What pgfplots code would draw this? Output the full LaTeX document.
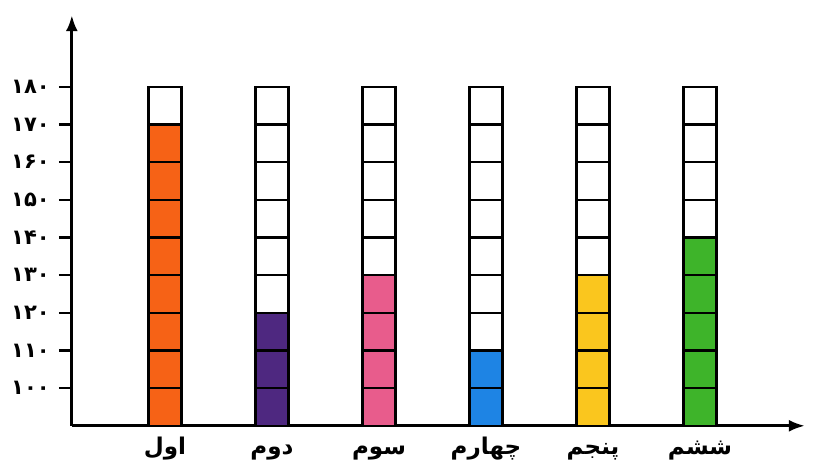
\documentclass[border=0pt]{standalone}
\usepackage{fontspec}
\usepackage{pgfplots}
\pgfplotsset{compat=1.18}
\usetikzlibrary{arrows.meta}
\TeXXeTstate=1
\newfontfamily\arabicfont[Script=Arabic]{DejaVu Sans}

\definecolor{barorange}{RGB}{246,98,22}
\definecolor{barpurple}{RGB}{78,40,128}
\definecolor{barpink}{RGB}{232,92,140}
\definecolor{barblue}{RGB}{30,132,228}
\definecolor{baryellow}{RGB}{250,198,30}
\definecolor{bargreen}{RGB}{62,180,42}

\pgfplotsset{
  cellbar/.style={ybar, bar width=16.5pt, bar shift=0pt},
  level/.style={cellbar, draw=black, fill=none, line width=1.2pt},
}

\begin{document}
\begin{tikzpicture}
\begin{axis}[
  scale only axis, width=366pt, height=205pt,
  xmin=-0.87, xmax=5.98, ymin=90, ymax=199,
  axis lines=left,
  axis line style={line width=1.5pt, -{Latex[length=8pt,width=6pt]}},
  xtick={0,1,2,3,4,5},
  xticklabels={
    {\beginR اول\endR},
    {\beginR دوم\endR},
    {\beginR سوم\endR},
    {\beginR چهارم\endR},
    {\beginR پنجم\endR},
    {\beginR ششم\endR}},
  x tick style={draw=none},
  xticklabel style={font=\arabicfont\bfseries\fontsize{11.5}{13}\selectfont,
    anchor=base, yshift=-8pt, inner sep=0pt},
  ytick={100,110,120,130,140,150,160,170,180},
  yticklabels={۱۰۰,۱۱۰,۱۲۰,۱۳۰,۱۴۰,۱۵۰,۱۶۰,۱۷۰,۱۸۰},
  yticklabel style={font=\arabicfont\bfseries\fontsize{10.5}{12}\selectfont, xshift=-1pt},
  y tick style={line width=1.2pt, black},
  tick align=outside, major tick length=6.5pt,
]
% coloured part of each column
\addplot[cellbar, fill=barorange, draw=none] coordinates {(0,170)};
\addplot[cellbar, fill=barpurple, draw=none] coordinates {(1,120)};
\addplot[cellbar, fill=barpink, draw=none] coordinates {(2,130)};
\addplot[cellbar, fill=barblue, draw=none] coordinates {(3,110)};
\addplot[cellbar, fill=baryellow, draw=none] coordinates {(4,130)};
\addplot[cellbar, fill=bargreen, draw=none] coordinates {(5,140)};
% cell outlines, one level at a time
\addplot[level] coordinates {(0,100) (1,100) (2,100) (3,100) (4,100) (5,100)};
\addplot[level] coordinates {(0,110) (1,110) (2,110) (3,110) (4,110) (5,110)};
\addplot[level] coordinates {(0,120) (1,120) (2,120) (3,120) (4,120) (5,120)};
\addplot[level] coordinates {(0,130) (1,130) (2,130) (3,130) (4,130) (5,130)};
\addplot[level] coordinates {(0,140) (1,140) (2,140) (3,140) (4,140) (5,140)};
\addplot[level] coordinates {(0,150) (1,150) (2,150) (3,150) (4,150) (5,150)};
\addplot[level] coordinates {(0,160) (1,160) (2,160) (3,160) (4,160) (5,160)};
\addplot[level] coordinates {(0,170) (1,170) (2,170) (3,170) (4,170) (5,170)};
\addplot[level] coordinates {(0,180) (1,180) (2,180) (3,180) (4,180) (5,180)};
\coordinate (bl) at (rel axis cs:-0.098,-0.088);
\coordinate (tr) at (rel axis cs:1.011,1.037);
\end{axis}
\path (bl) rectangle (tr);
\end{tikzpicture}
\end{document}
